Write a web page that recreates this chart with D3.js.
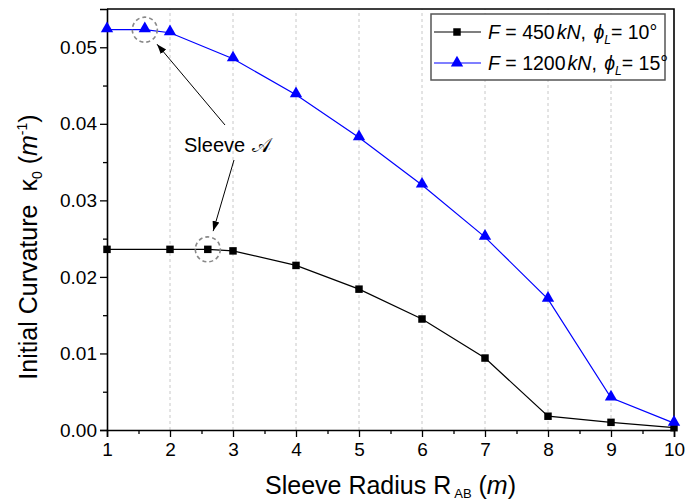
<!DOCTYPE html>
<html>
<head>
<meta charset="utf-8">
<script src="https://cdn.jsdelivr.net/npm/d3@7"></script>
<style>
  body { margin: 0; background: #fff; }
  svg { display: block; font-family: "Liberation Sans", Arial, sans-serif; }
</style>
</head>
<body>
<svg id="chart" width="686" height="502"></svg>
<script>
// Sleeve radius (m) and initial curvature (1/m) for two load cases
const radiusLow = [1, 2, 2.6, 3, 4, 5, 6, 7, 8, 9, 10];
const kappaLow = [0.0236, 0.0236, 0.0236, 0.0234, 0.0215, 0.0184, 0.0145, 0.0094, 0.0018, 0.0010, 0.0003];
const radiusHigh = [1, 1.6, 2, 3, 4, 5, 6, 7, 8, 9, 10];
const kappaHigh = [0.0523, 0.0523, 0.0519, 0.0485, 0.0438, 0.0382, 0.0320, 0.0252, 0.0171, 0.0042, 0.0009];
const xTicks = [1, 2, 3, 4, 5, 6, 7, 8, 9, 10];
const yTicks = [0, 0.01, 0.02, 0.03, 0.04, 0.05];
// Points picked out as "Sleeve A" on each curve
const sleevePoints = [
  { x: 1.6, y: 0.0523, from: [225, 125] },
  { x: 2.6, y: 0.0236, from: [234, 160] }
];

const svg = d3.select("#chart");
const m = { left: 107, right: 12, top: 9, bottom: 72 };
const W = 686, H = 502;

const x = d3.scaleLinear().domain([1, 10]).range([m.left, W - m.right]);
const y = d3.scaleLinear().domain([0, 0.055]).range([H - m.bottom, m.top]);

// vertical dashed grid
svg.append("g").selectAll("line")
  .data(xTicks.slice(1, -1))
  .join("line")
  .attr("x1", d => x(d)).attr("x2", d => x(d))
  .attr("y1", y(0)).attr("y2", y(0.055))
  .attr("stroke", "#c8c8c8").attr("stroke-width", 1)
  .attr("stroke-dasharray", "3,3");

// axes
svg.append("g")
  .attr("transform", `translate(0,${y(0)})`)
  .call(d3.axisBottom(x).tickValues(xTicks).tickFormat(d3.format("d")).tickSize(7).tickPadding(6));
svg.append("g")
  .attr("transform", `translate(0,${y(0)})`)
  .call(d3.axisBottom(x).tickValues(d3.range(1.5, 10, 1)).tickFormat("").tickSize(4))
  .call(g => g.select(".domain").remove());

svg.append("g")
  .attr("transform", `translate(${x(1)},0)`)
  .call(d3.axisLeft(y).tickValues(yTicks).tickFormat(d3.format(".2f")).tickSize(7).tickPadding(3));
svg.append("g")
  .attr("transform", `translate(${x(1)},0)`)
  .call(d3.axisLeft(y).tickValues(d3.range(0.005, 0.055, 0.01)).tickFormat("").tickSize(4))
  .call(g => g.select(".domain").remove());

svg.selectAll(".tick text").attr("font-size", 19).attr("fill", "#000")
  .attr("font-family", "Liberation Sans, Arial, sans-serif");
svg.selectAll(".tick line").attr("stroke", "#000").attr("stroke-width", 1.3);
svg.selectAll(".domain").attr("stroke", "#000").attr("stroke-width", 1.6);

// frame on top and right
svg.append("path")
  .attr("d", `M${x(1)},${y(0.055)}H${x(10)}V${y(0)}`)
  .attr("fill", "none").attr("stroke", "#000").attr("stroke-width", 1.6);

// axis titles
const xt = svg.append("text")
  .attr("x", (x(1) + x(10)) / 2).attr("y", 494)
  .attr("text-anchor", "middle").attr("font-size", 25);
xt.append("tspan").text("Sleeve Radius R");
xt.append("tspan").text("AB").attr("font-size", 13).attr("dx", 3).attr("dy", 4);
xt.append("tspan").text(" (").attr("dy", -4);
xt.append("tspan").text("m").attr("font-style", "italic");
xt.append("tspan").text(")");

const yt = svg.append("text")
  .attr("transform", "translate(37,247) rotate(-90)")
  .attr("text-anchor", "middle").attr("font-size", 25);
yt.append("tspan").text("Initial Curvature");
yt.append("tspan").text("\u03ba").attr("dx", 13);
yt.append("tspan").text("0").attr("font-size", 14).attr("dy", 5);
yt.append("tspan").text(" (").attr("dy", -5);
yt.append("tspan").text("m").attr("font-style", "italic");
yt.append("tspan").text("-1").attr("font-size", 14).attr("dy", -10);
yt.append("tspan").text(")").attr("dy", 10);

// series
const line = d3.line().x(d => x(d[0])).y(d => y(d[1]));
const low = radiusLow.map((r, i) => [r, kappaLow[i]]);
const high = radiusHigh.map((r, i) => [r, kappaHigh[i]]);

svg.append("path").datum(low).attr("d", line)
  .attr("fill", "none").attr("stroke", "#000").attr("stroke-width", 1.2);
svg.append("path").datum(high).attr("d", line)
  .attr("fill", "none").attr("stroke", "#0000ff").attr("stroke-width", 1.2);

const square = d3.symbol().type(d3.symbolSquare).size(56);
const tri = d3.symbol().type(d3.symbolTriangle).size(66);

svg.append("g").selectAll("path").data(low).join("path")
  .attr("d", square).attr("transform", d => `translate(${x(d[0])},${y(d[1])})`)
  .attr("fill", "#000");
svg.append("g").selectAll("path").data(high).join("path")
  .attr("d", tri).attr("transform", d => `translate(${x(d[0])},${y(d[1]) - 1})`)
  .attr("fill", "#0000ff");

// Sleeve A annotation
svg.append("defs").append("marker")
  .attr("id", "arrow").attr("viewBox", "0 0 10 10")
  .attr("refX", 10).attr("refY", 5)
  .attr("markerWidth", 10).attr("markerHeight", 10)
  .attr("markerUnits", "userSpaceOnUse")
  .attr("orient", "auto")
  .append("path").attr("d", "M0,1.5L10,5L0,8.5z").attr("fill", "#000");

sleevePoints.forEach(p => {
  const cx = x(p.x), cy = y(p.y);
  svg.append("circle").attr("cx", cx).attr("cy", cy).attr("r", 12.5)
    .attr("fill", "none").attr("stroke", "#888").attr("stroke-width", 1.6)
    .attr("stroke-dasharray", "4,3");
  const dx = cx - p.from[0], dy = cy - p.from[1];
  const len = Math.hypot(dx, dy);
  const ex = cx - dx / len * 19, ey = cy - dy / len * 19;
  svg.append("line")
    .attr("x1", p.from[0]).attr("y1", p.from[1])
    .attr("x2", ex).attr("y2", ey)
    .attr("stroke", "#000").attr("stroke-width", 1)
    .attr("marker-end", "url(#arrow)");
});

const st = svg.append("text").attr("x", 184).attr("y", 152).attr("font-size", 20);
st.append("tspan").text("Sleeve");
st.append("tspan").text("\ud835\udc9c").attr("dx", 7);

// legend
const lg = svg.append("g");
lg.append("rect").attr("x", 431).attr("y", 14).attr("width", 234).attr("height", 66)
  .attr("fill", "#fff").attr("stroke", "#555").attr("stroke-width", 1.5);

const legendItems = [
  { color: "#000", sym: square, F: "450", phi: "10" },
  { color: "#0000ff", sym: tri, F: "1200", phi: "15" }
];
legendItems.forEach((it, i) => {
  const cy = 32 + i * 31;
  lg.append("line").attr("x1", 434).attr("x2", 481).attr("y1", cy).attr("y2", cy)
    .attr("stroke", it.color).attr("stroke-width", 1.2);
  lg.append("path").attr("d", it.sym).attr("transform", `translate(457,${cy})`).attr("fill", it.color);
  const t = lg.append("text").attr("x", 488).attr("y", cy + 7).attr("font-size", 19.5);
  t.append("tspan").text("F").attr("font-style", "italic");
  t.append("tspan").text(` = ${it.F}`);
  t.append("tspan").text("kN").attr("font-style", "italic").attr("dx", 2);
  t.append("tspan").text(", ");
  t.append("tspan").text("\u03d5").attr("font-style", "italic").attr("dx", 2);
  t.append("tspan").text("L").attr("font-style", "italic").attr("font-size", 12).attr("dy", 5);
  t.append("tspan").text(`= ${it.phi}\u00b0`).attr("dy", -5);
});
</script>
</body>
</html>
